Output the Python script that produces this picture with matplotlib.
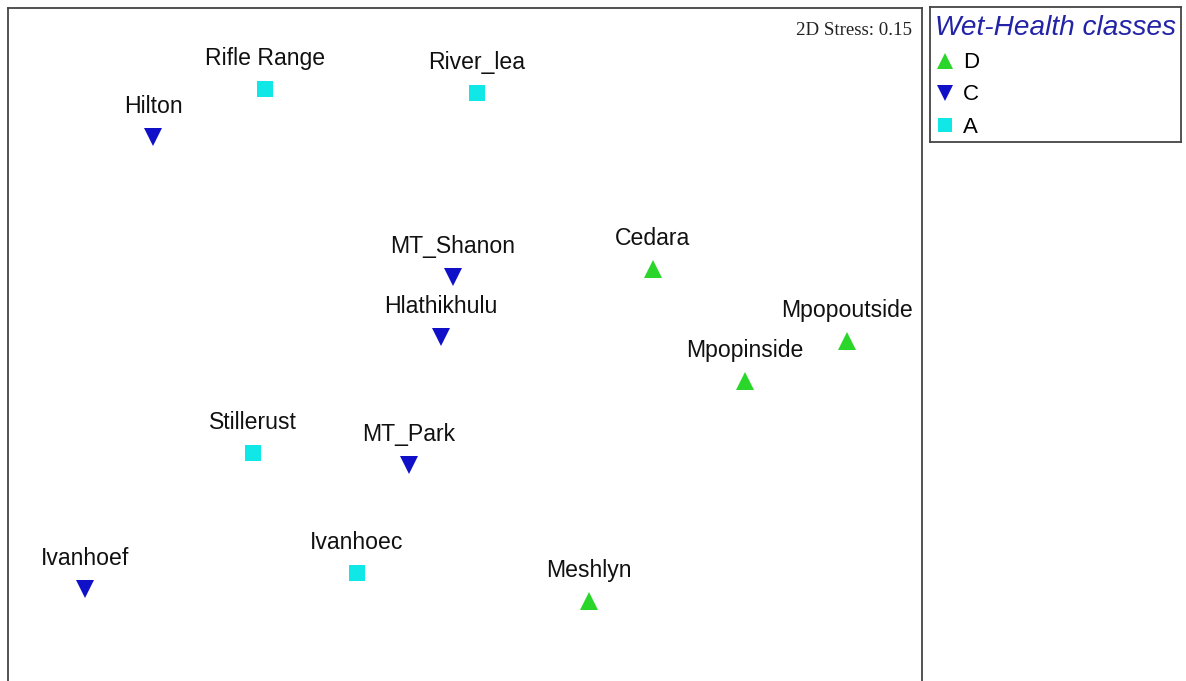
import matplotlib
matplotlib.use("Agg")
import matplotlib.pyplot as plt
from matplotlib.lines import Line2D

# ---- data (MDS coordinates, estimated) ----
sites = ["Rifle Range", "River_lea", "Hilton", "MT_Shanon", "Cedara", "Hlathikhulu",
         "Mpopoutside", "Mpopinside", "Stillerust", "MT_Park", "Ivanhoef", "Ivanhoec", "Meshlyn"]
mds_x = [-0.50, 0.03, -0.78, -0.03, 0.47, -0.06, 0.955, 0.70, -0.53, -0.14, -0.95, -0.27, 0.31]
mds_y = [0.64, 0.63, 0.52, 0.17, 0.19, 0.02, 0.01, -0.09, -0.27, -0.30, -0.61, -0.57, -0.64]
classes = ["A", "A", "C", "C", "D", "C", "D", "D", "A", "C", "C", "A", "D"]
class_order = ["D", "C", "A"]
stress_text = "2D Stress: 0.15"
legend_title = "Wet-Health classes"

styles = {
    "D": dict(marker="^", color="#2bd62b", ms=13),
    "C": dict(marker="v", color="#1010c8", ms=13),
    "A": dict(marker="s", color="#10e8e8", ms=11),
}

W, H = 1186, 681
fig = plt.figure(figsize=(W / 100, H / 100), dpi=100)
fig.patch.set_facecolor("white")

# main axes (bottom border lies below the image)
left, right, top, bottom = 8, 922, 8, 700
ax = fig.add_axes([left / W, 1 - bottom / H, (right - left) / W, (bottom - top) / H])
ax.set_xlim(-1.1425, 1.1425)
ax.set_ylim(-0.8875, 0.8425)
ax.set_xticks([])
ax.set_yticks([])
for s in ax.spines.values():
    s.set_color("#444444")
    s.set_linewidth(1.3)

for cls in class_order:
    st = styles[cls]
    xs = [x for x, c in zip(mds_x, classes) if c == cls]
    ys = [y for y, c in zip(mds_y, classes) if c == cls]
    ax.plot(xs, ys, linestyle="none", marker=st["marker"], color=st["color"],
            markersize=st["ms"], markeredgewidth=0)

for name, x, y in zip(sites, mds_x, mds_y):
    ax.annotate(name, (x, y), xytext=(0, 17.0), textcoords="offset points",
                ha="center", va="baseline", fontsize=16.6,
                family="Liberation Sans", color="#111111")

ax.text(0.9895, 0.968, stress_text, transform=ax.transAxes, ha="right", va="center",
        fontsize=13.6, family="Liberation Serif", color="#222222")

# legend box
lx0, lx1, ly0, ly1 = 930, 1181, 7, 142
lax = fig.add_axes([lx0 / W, 1 - ly1 / H, (lx1 - lx0) / W, (ly1 - ly0) / H])
lax.set_xticks([])
lax.set_yticks([])
for s in lax.spines.values():
    s.set_color("#444444")
    s.set_linewidth(1.3)
lax.text(0.5, 0.845, legend_title, transform=lax.transAxes, ha="center", va="center",
         fontsize=20.2, style="italic", family="Liberation Sans", color="#2323a8")

handles = [Line2D([], [], linestyle="none", marker=styles[c]["marker"],
                  color=styles[c]["color"], markersize=styles[c]["ms"] - 1,
                  markeredgewidth=0) for c in class_order]
lax.legend(handles, class_order, loc="upper left", bbox_to_anchor=(-0.01, 0.73),
           frameon=False, prop={"family": "Liberation Sans", "size": 16},
           handlelength=0.8, handletextpad=0.4, labelspacing=0.50, borderaxespad=0.0)

fig.savefig("out.png", dpi=100)
